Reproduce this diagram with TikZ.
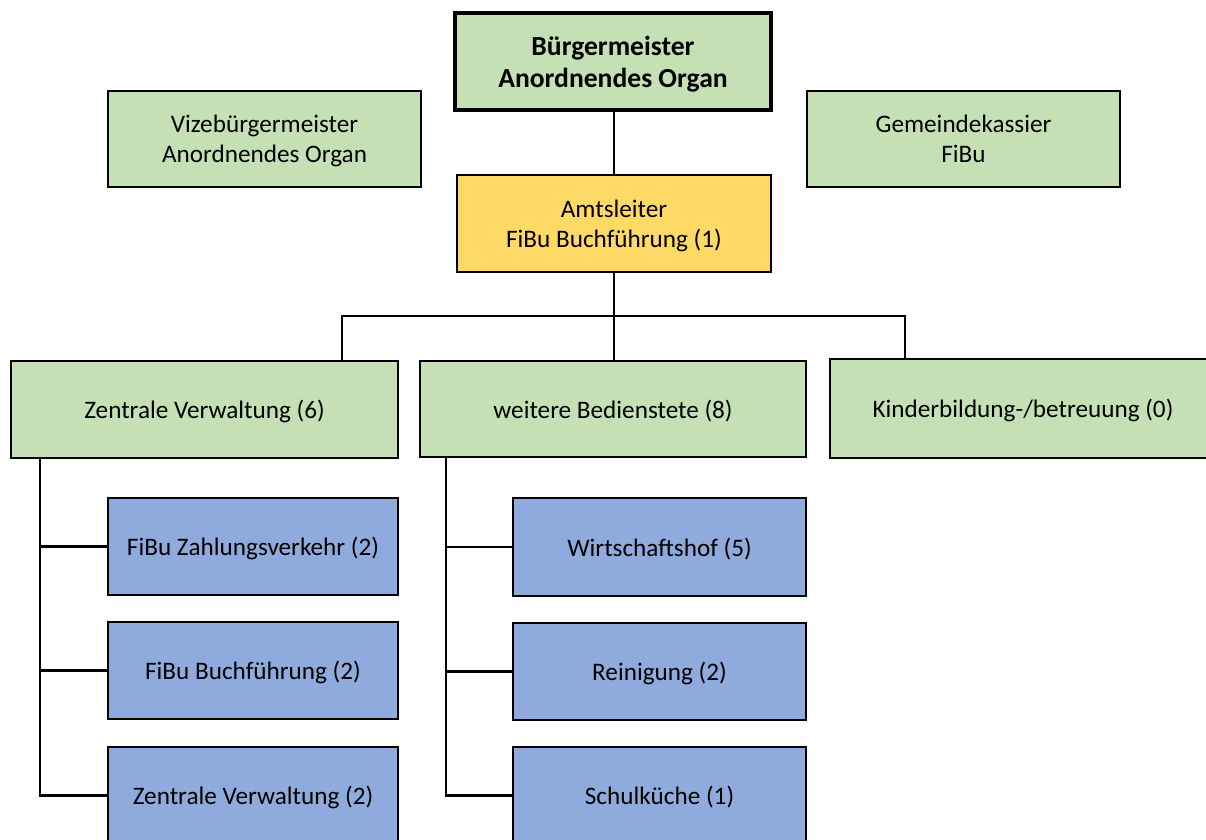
\documentclass[tikz,border=0pt]{standalone}
\usepackage{fontspec}
\setmainfont{Carlito}
\definecolor{gfill}{HTML}{C5E0B4}
\definecolor{yfill}{HTML}{FFD966}
\definecolor{bfill}{HTML}{8FAADC}
\newcommand\bx[7]{\node[#6, minimum width={(#4-#2)*0.75pt}, minimum height={(#5-#3)*0.75pt}] (#1) at ({(#2+#4)/2},{(#3+#5)/2}) {#7};}
\begin{document}
\begin{tikzpicture}[x=0.75pt,y=-0.75pt,
  box/.style={draw=black, line width=1.6pt, inner sep=0pt, align=center, text depth=0pt,
    font=\fontsize{18.9}{22.5}\selectfont},
  green/.style={box, fill=gfill},
  topbox/.style={box, fill=gfill, line width=3pt, font=\fontsize{20.7}{24}\selectfont\bfseries},
  yellow/.style={box, fill=yfill},
  blue/.style={box, fill=bfill},
  conn/.style={draw=black, line width=1.6pt}]
\useasboundingbox (0,0) rectangle (1206,839);
\clip (0,0) rectangle (1206,839);
\fill[white] (0,0) rectangle (1206,839);
\bx{bm}{455}{13}{771}{110}{topbox}{Bürgermeister\\Anordnendes Organ}
\bx{vize}{108}{91}{421}{187}{green}{Vizebürgermeister\\Anordnendes Organ}
\bx{kass}{807}{91}{1120}{187}{green}{Gemeindekassier\\FiBu}
\bx{amt}{457}{175}{771}{272}{yellow}{Amtsleiter\\FiBu Buchführung (1)}
\bx{zv}{11}{361}{398}{458}{green}{Zentrale Verwaltung (6)}
\bx{wb}{420}{361}{806}{457}{green}{weitere Bedienstete (8)}
\bx{kb}{830}{359}{1216}{458}{green}{Kinderbildung-/betreuung (0)}
\bx{z1}{108}{498}{398}{595}{blue}{FiBu Zahlungsverkehr (2)}
\bx{z2}{108}{622}{398}{719}{blue}{FiBu Buchführung (2)}
\bx{z3}{108}{747}{398}{844}{blue}{Zentrale Verwaltung (2)}
\bx{w1}{513}{498}{806}{596}{blue}{Wirtschaftshof (5)}
\bx{w2}{513}{623}{806}{720}{blue}{Reinigung (2)}
\bx{w3}{513}{747}{806}{844}{blue}{Schulküche (1)}
\coordinate (bl) at (342,316);
\coordinate (br) at (905,316);
\coordinate (zt) at (40,458);
\coordinate (wt) at (446,457);
\draw[conn] (bm.south -| amt.north) -- (amt.north);
\draw[conn] (amt.south) -- (amt.south |- wb.north);
\draw[conn] (bl |- zv.north) -- (bl) -- (br) -- (br |- kb.north);
\draw[conn] (zt) |- (z3.west);
\draw[conn] (zt |- z1.west) -- (z1.west);
\draw[conn] (zt |- z2.west) -- (z2.west);
\draw[conn] (wt) |- (w3.west);
\draw[conn] (wt |- w1.west) -- (w1.west);
\draw[conn] (wt |- w2.west) -- (w2.west);
\end{tikzpicture}
\end{document}
